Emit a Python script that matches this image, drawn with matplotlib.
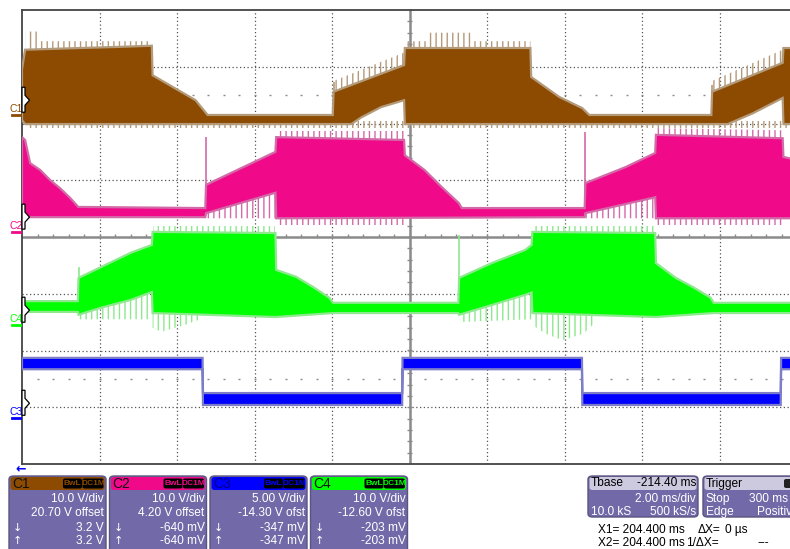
import matplotlib.pyplot as plt
import numpy as np
from matplotlib.patches import FancyBboxPatch, Polygon

# time in ms (2 ms/div, 10 div), levels in screen divisions (-4..4)
c1_t_hi = [0, 0.08, 1.5, 2.5, 3.35, 3.37, 4.48, 4.79, 8.02, 8.04, 9.86, 9.88,
           13.12, 13.14, 13.86, 14.46, 14.64, 17.79, 17.81, 19.63, 19.65, 20]
c1_hi = [2.95, 3.30, 3.33, 3.35, 3.37, 2.85, 2.41, 2.15, 2.15, 2.56, 3.03, 3.33,
         3.33, 2.82, 2.47, 2.27, 2.15, 2.15, 2.56, 3.07, 3.33, 3.33]
c1_t_lo = [0, 0.08, 8.50, 8.76, 9.27, 9.86, 9.88, 18.21, 18.86, 19.63, 19.65, 20]
c1_lo = [2.06, 1.99, 1.99, 2.11, 2.29, 2.41, 1.99, 1.99, 2.18, 2.45, 1.99, 1.99]

c2_t_hi = [0, 0.08, 0.21, 0.47, 0.73, 0.98, 1.24, 1.45, 4.73, 4.75, 6.54, 6.56,
           9.86, 9.88, 10.39, 10.83, 11.27, 11.35, 14.52, 14.54, 15.57, 16.34,
           16.36, 19.63, 19.65, 20]
c2_hi = [1.76, 1.71, 1.30, 1.18, 1.00, 0.86, 0.69, 0.53, 0.51, 0.92, 1.50, 1.76,
         1.71, 1.44, 1.18, 0.88, 0.60, 0.51, 0.51, 0.95, 1.23, 1.48,
         1.80, 1.74, 1.41, 1.36]
c2_t_lo = [0, 4.73, 4.75, 6.54, 6.56, 14.52, 14.54, 16.34, 16.36, 20]
c2_lo = [0.35, 0.35, 0.42, 0.78, 0.33, 0.35, 0.42, 0.70, 0.33, 0.33]

c4_t_hi = [0, 1.44, 1.46, 2.80, 3.35, 3.37, 6.54, 6.56, 7.07, 7.51, 7.93, 8.03,
           11.26, 11.28, 12.12, 12.98, 13.15, 13.17, 16.34, 16.36, 16.87, 17.31,
           17.77, 17.85, 20]
c4_hi = [-1.13, -1.13, -0.72, -0.28, -0.14, 0.09, 0.07, -0.58, -0.70, -0.88, -1.07, -1.16,
         -1.16, -0.72, -0.46, -0.23, -0.14, 0.09, 0.07, -0.46, -0.72, -0.88,
         -1.07, -1.16, -1.16]
c4_t_lo = [0, 1.44, 1.46, 2.02, 2.80, 3.35, 3.37, 6.54, 8.03, 11.26, 11.28, 12.12,
           12.98, 13.15, 13.17, 16.34, 17.85, 20]
c4_lo = [-1.32, -1.32, -1.37, -1.25, -1.11, -0.97, -1.34, -1.41, -1.34, -1.34, -1.37, -1.20,
         -1.02, -0.98, -1.34, -1.41, -1.34, -1.34]

c3_t = [0, 4.66, 4.67, 9.81, 9.82, 14.45, 14.46, 19.58, 19.59, 20]
c3_hi = [-2.13, -2.13, -2.75, -2.75, -2.13, -2.13, -2.75, -2.75, -2.13, -2.13]
c3_lo = [-2.33, -2.33, -2.96, -2.96, -2.33, -2.33, -2.96, -2.96, -2.33, -2.33]

# ringing fringes around the traces: (channel, times, outer edge, inner edge)
fringe_zones = [
    ('C1', [0.1, 0.4, 0.41, 3.35], [3.62, 3.62, 3.45, 3.45], [3.1, 3.1, 3.1, 3.1]),
    ('C1', [9.88, 10.5, 10.51, 11.6, 11.61, 13.12], [3.45, 3.45, 3.6, 3.6, 3.45, 3.45],
     [3.1, 3.1, 3.1, 3.1, 3.1, 3.1]),
    ('C1', [8.04, 9.86], [2.75, 3.25], [2.4, 2.9]),
    ('C1', [17.81, 19.63], [2.75, 3.3], [2.4, 2.9]),
    ('C1', [0.1, 20], [1.92, 1.92], [2.05, 2.05]),
    ('C2', [4.75, 6.54], [0.33, 0.33], [0.42, 0.78]),
    ('C2', [14.54, 16.34], [0.33, 0.33], [0.42, 0.70]),
    ('C2', [6.56, 9.86], [1.86, 1.86], [1.6, 1.6]),
    ('C2', [16.36, 19.63], [1.92, 1.88], [1.6, 1.6]),
    ('C2', [6.56, 9.86], [0.22, 0.22], [0.4, 0.4]),
    ('C2', [16.36, 19.63], [0.22, 0.22], [0.4, 0.4]),
    ('C4', [3.37, 3.6, 4.2, 4.6], [-1.6, -1.67, -1.55, -1.45], [-1.3, -1.3, -1.3, -1.3]),
    ('C4', [13.17, 13.5, 13.95, 14.5, 14.8], [-1.55, -1.7, -1.82, -1.7, -1.5],
     [-1.3, -1.3, -1.3, -1.3, -1.3]),
    ('C4', [1.46, 3.35], [-1.45, -1.45], [-1.3, -1.0]),
    ('C4', [11.28, 13.15], [-1.5, -1.45], [-1.3, -0.95]),
    ('C4', [3.37, 6.54], [0.2, 0.2], [0.0, 0.0]),
    ('C4', [13.17, 16.34], [0.2, 0.2], [0.0, 0.0]),
]

# isolated tall spikes: (channel, time, from, to)
spikes = [('C1', 8.04, 2.5, 2.73), ('C1', 17.81, 2.5, 2.68),
          ('C2', 4.75, 0.5, 1.76), ('C2', 14.54, 0.5, 1.85),
          ('C4', 1.46, -0.8, -0.53), ('C4', 11.28, -0.8, 0.04)]

# ground marker levels (div) and labels
ch_names = ['C1', 'C2', 'C3', 'C4']
ch_ground = [2.41, 0.35, -2.93, -1.29]
ch_vdiv = ['10.0 V/div', '10.0 V/div', '5.00 V/div', '10.0 V/div']
ch_offset = ['20.70 V offset', '4.20 V offset', '-14.30 V ofst', '-12.60 V ofst']
ch_cursor = ['3.2 V', '-640 mV', '-347 mV', '-203 mV']

col = {'C1': '#8c4b00', 'C2': '#f00a8a', 'C3': '#0000ff', 'C4': '#00ff00'}
fringe = {'C1': '#b39a7a', 'C2': '#d36aa8', 'C3': '#7d7dc8', 'C4': '#8ee88e'}

W, H = 790, 549


def fx(x):
    return x / W


def fy(y):
    return 1 - y / H


fig = plt.figure(figsize=(7.9, 5.49), dpi=100)
plt.rcParams['font.family'] = ['Liberation Sans', 'DejaVu Sans']
plt.rcParams['hatch.linewidth'] = 1.0

ax = fig.add_axes([fx(22), fy(464), 775 / W, 454 / H])
ax.set_xlim(0, 20)
ax.set_ylim(-4, 4)
ax.set_xticks([])
ax.set_yticks([])
for s in ax.spines.values():
    s.set_color('#444444')
    s.set_linewidth(1.3)

# grid
for t in range(2, 20, 2):
    if t != 10:
        ax.axvline(t, color='#555555', lw=0.9, ls=(0, (1, 2)), zorder=1)
for v in [-3, -2, -1, 1, 2, 3]:
    ax.axhline(v, color='#555555', lw=0.9, ls=(0, (1, 2)), zorder=1)
ax.axvline(10, color='#8a8a8a', lw=1.8, zorder=1)
ax.axhline(0, color='#8a8a8a', lw=1.8, zorder=1)
ax.vlines(np.arange(0.4, 20, 0.4), 0, 0.06, color='#8a8a8a', lw=1, zorder=1)
ax.hlines(np.arange(-3.8, 4, 0.2), 9.93, 10.07, color='#8a8a8a', lw=1, zorder=1)
for v in [2.5, -2.5]:
    ax.plot(np.arange(0.4, 20, 0.4), np.full(49, v), ls='none', marker='_',
            ms=2, mew=1, color='#8a8a8a', zorder=1)

# fringes first (hatched vertical strokes), traces on top
for name, t, outer, inner in fringe_zones:
    ax.fill_between(t, outer, inner, facecolor='none', edgecolor=fringe[name],
                    hatch='|||', lw=0, zorder=2)
for name, t, y0, y1 in spikes:
    ax.vlines(t, y0, y1, color=fringe[name], lw=1.2, zorder=2)


def band(name, t_hi, hi, t_lo, lo):
    xs = np.r_[t_hi, t_lo[::-1]]
    ys = np.r_[hi, lo[::-1]]
    ax.fill(xs, ys, facecolor=col[name], edgecolor=fringe[name], lw=1.6,
            joinstyle='miter', zorder=3)


band('C1', c1_t_hi, c1_hi, c1_t_lo, c1_lo)
band('C2', c2_t_hi, c2_hi, c2_t_lo, c2_lo)
band('C4', c4_t_hi, c4_hi, c4_t_lo, c4_lo)
band('C3', c3_t, c3_hi, c3_t, c3_lo)

# ground markers on the left edge
for name, g in zip(ch_names, ch_ground):
    ypx = 237 - g * 56.75
    pts = [(22, ypx - 13), (25, ypx - 13), (25, ypx - 5), (29.5, ypx), (25, ypx + 5),
           (25, ypx + 12), (22, ypx + 12)]
    fig.patches.append(Polygon([(fx(a), fy(b)) for a, b in pts], closed=True,
                               transform=fig.transFigure, facecolor='white',
                               edgecolor='black', lw=0.9, zorder=5))
    fig.text(fx(16), fy(ypx + 9), name, color=col[name], fontsize=7.5,
             ha='center', va='center')
    fig.add_artist(plt.Line2D([fx(12), fx(20)], [fy(ypx + 15), fy(ypx + 15)],
                              color=col[name], lw=2))

fig.text(fx(21), fy(469), '\u2190', color='#0000ff', fontsize=9, ha='center',
         va='center', family='DejaVu Sans', weight='bold')

body = '#726aa8'
head_light = '#cdc9df'
edge = '#5a547e'

# channel info boxes
for i, name in enumerate(ch_names):
    x0 = 9 + i * 100.5
    fig.patches.append(FancyBboxPatch((fx(x0), fy(560)), fx(97), 84 / H,
                                      boxstyle='round,pad=0,rounding_size=0.006',
                                      transform=fig.transFigure, facecolor=body,
                                      edgecolor=edge, lw=1))
    fig.patches.append(FancyBboxPatch((fx(x0 + 1.5), fy(490)), fx(94), 13 / H,
                                      boxstyle='round,pad=0,rounding_size=0.004',
                                      transform=fig.transFigure,
                                      facecolor=col[name], edgecolor='none'))
    tc = '#00008a' if name == 'C3' else '#111111'
    fig.text(fx(x0 + 3), fy(483.5), name, color=tc, fontsize=10, va='center')
    for bx, bw, lab in [(x0 + 54, 19, 'BwL'), (x0 + 73.5, 21, 'DC1M')]:
        fig.patches.append(FancyBboxPatch((fx(bx), fy(488.5)), fx(bw), 10 / H,
                                          boxstyle='round,pad=0,rounding_size=0.003',
                                          transform=fig.transFigure,
                                          facecolor='black', edgecolor='none'))
        fig.text(fx(bx + bw / 2), fy(483.5), lab, color=col[name], fontsize=6,
                 weight='bold', ha='center', va='center')
    xr = x0 + 95
    fig.text(fx(xr), fy(499), ch_vdiv[i], color='white', fontsize=8.6,
             ha='right', va='center')
    fig.text(fx(xr), fy(513), ch_offset[i], color='white', fontsize=8.6,
             ha='right', va='center')
    fig.text(fx(xr), fy(528), ch_cursor[i], color='white', fontsize=8.6,
             ha='right', va='center')
    fig.text(fx(xr), fy(541), ch_cursor[i], color='white', fontsize=8.6,
             ha='right', va='center')
    fig.text(fx(x0 + 4), fy(528), '\u2193', color='white', fontsize=8,
             va='center', family='DejaVu Sans')
    fig.text(fx(x0 + 4), fy(541), '\u2191', color='white', fontsize=8,
             va='center', family='DejaVu Sans')

# timebase box
fig.patches.append(FancyBboxPatch((fx(588), fy(517)), fx(110), 41 / H,
                                  boxstyle='round,pad=0,rounding_size=0.006',
                                  transform=fig.transFigure, facecolor=body,
                                  edgecolor=edge, lw=1))
fig.patches.append(FancyBboxPatch((fx(589.5), fy(490)), fx(107), 13 / H,
                                  boxstyle='round,pad=0,rounding_size=0.004',
                                  transform=fig.transFigure,
                                  facecolor=head_light, edgecolor='none'))
fig.text(fx(591), fy(483.5), 'Tbase', color='black', fontsize=8.6, va='center')
fig.text(fx(696), fy(483.5), '-214.40 ms', color='black', fontsize=8.6,
         va='center', ha='right')
fig.text(fx(696), fy(499), '2.00 ms/div', color='white', fontsize=8.6,
         va='center', ha='right')
fig.text(fx(591), fy(512), '10.0 kS', color='white', fontsize=8.6, va='center')
fig.text(fx(696), fy(512), '500 kS/s', color='white', fontsize=8.6,
         va='center', ha='right')

# trigger box (runs past the right edge of the screen)
fig.patches.append(FancyBboxPatch((fx(703), fy(517)), fx(100), 41 / H,
                                  boxstyle='round,pad=0,rounding_size=0.006',
                                  transform=fig.transFigure, facecolor=body,
                                  edgecolor=edge, lw=1))
fig.patches.append(FancyBboxPatch((fx(704.5), fy(490)), fx(97), 13 / H,
                                  boxstyle='round,pad=0,rounding_size=0.004',
                                  transform=fig.transFigure,
                                  facecolor=head_light, edgecolor='none'))
fig.text(fx(706), fy(483.5), 'Trigger', color='black', fontsize=8.6, va='center')
fig.patches.append(FancyBboxPatch((fx(784), fy(488)), fx(8), 9 / H,
                                  boxstyle='round,pad=0,rounding_size=0.003',
                                  transform=fig.transFigure,
                                  facecolor='#222222', edgecolor='none'))
fig.text(fx(706), fy(499), 'Stop', color='white', fontsize=8.6, va='center')
fig.text(fx(749), fy(499), '300 ms', color='white', fontsize=8.6, va='center')
fig.text(fx(706), fy(512), 'Edge', color='white', fontsize=8.6, va='center')
fig.text(fx(757), fy(512), 'Positive', color='white', fontsize=8.6, va='center')

# cursor readout
fig.text(fx(598), fy(530), 'X1= 204.400 ms', color='black', fontsize=8.6, va='center')
fig.text(fx(698), fy(530), '\u0394X=', color='black', fontsize=8.6, va='center')
fig.text(fx(725), fy(530), '0 \u00b5s', color='black', fontsize=8.6, va='center')
fig.text(fx(598), fy(543), 'X2= 204.400 ms', color='black', fontsize=8.6, va='center')
fig.text(fx(686), fy(543), '1/\u0394X=', color='black', fontsize=8.6, va='center')
fig.text(fx(757), fy(543), '---', color='black', fontsize=8.6, va='center')

fig.savefig('out.png', dpi=100)
